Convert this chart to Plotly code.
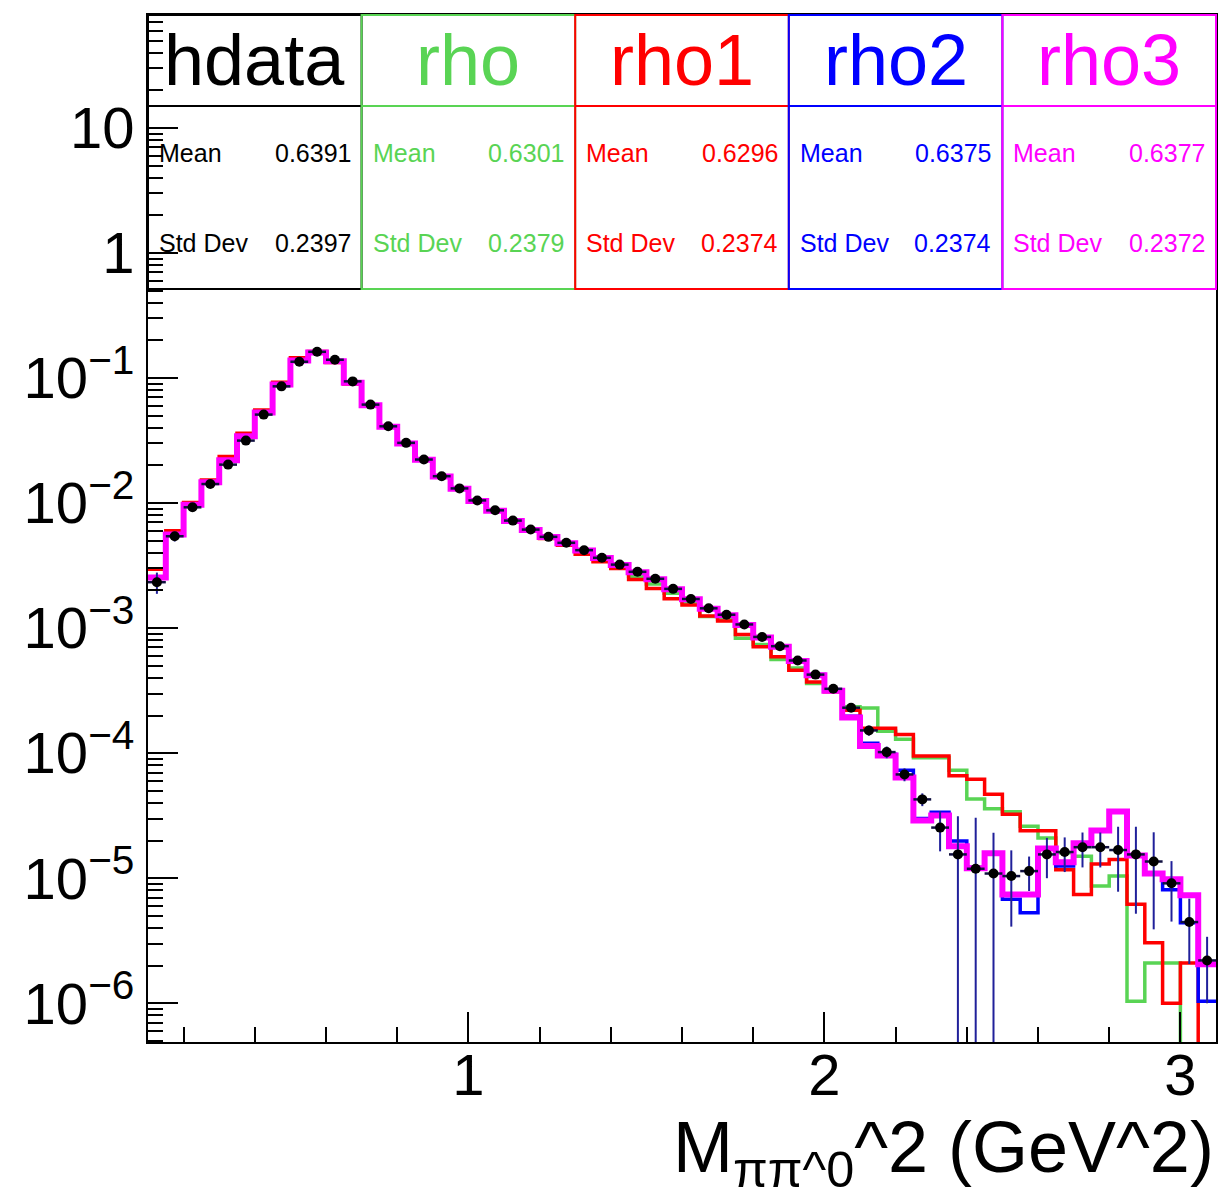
import math
import plotly.graph_objects as go

# ---------------- data ----------------
bin_low = 0.1
bin_width = 0.05

hdata = [2.33e-3, 5.43e-3, 9.25e-3, 1.42e-2, 2.03e-2, 3.16e-2, 5.10e-2, 8.58e-2, 0.135, 0.162,
         0.140, 0.094, 0.0613, 0.0411, 0.0303, 0.0223, 0.0164, 0.0131, 0.0105, 8.75e-3,
         7.24e-3, 6.14e-3, 5.37e-3, 4.81e-3, 4.20e-3, 3.65e-3, 3.22e-3, 2.82e-3, 2.48e-3, 2.06e-3,
         1.71e-3, 1.44e-3, 1.28e-3, 1.07e-3, 8.5e-4, 7.17e-4, 5.51e-4, 4.25e-4, 3.27e-4, 2.31e-4,
         1.52e-4, 1.02e-4, 6.76e-5, 4.27e-5, 2.54e-5, 1.55e-5, 1.19e-5, 1.09e-5, 1.04e-5, 1.14e-5,
         1.55e-5, 1.62e-5, 1.77e-5, 1.77e-5, 1.68e-5, 1.55e-5, 1.36e-5, 9.1e-6, 4.46e-6, 2.2e-6]

hdata_err = [4.5e-4, 5.0e-4, 2.8e-4, 4.0e-4, 5.0e-4, 7.0e-4, 1.0e-3, 1.5e-3, 2.2e-3, 2.5e-3,
             2.3e-3, 1.7e-3, 1.2e-3, 8.0e-4, 6.0e-4, 4.5e-4, 3.3e-4, 2.7e-4, 2.2e-4, 1.9e-4,
             1.6e-4, 1.4e-4, 1.25e-4, 1.2e-4, 1.1e-4, 1.0e-4, 9.0e-5, 8.5e-5, 7.5e-5, 6.5e-5,
             5.5e-5, 5.0e-5, 4.5e-5, 4.0e-5, 3.5e-5, 3.2e-5, 2.8e-5, 2.4e-5, 2.0e-5, 1.7e-5,
             1.4e-5, 1.1e-5, 8.0e-6, 5.0e-6, 9.0e-6, 1.58e-5, 1.85e-5, 1.22e-5, 6.3e-6, 3.5e-6,
             5.5e-6, 5.0e-6, 5.5e-6, 5.5e-6, 9.0e-6, 1.03e-5, 9.7e-6, 4.6e-6, 2.4e-6, 1.2e-6]

rho = [2.52e-3, 5.58e-3, 9.65e-3, 1.46e-2, 2.19e-2, 3.40e-2, 5.27e-2, 8.83e-2, 0.137, 0.160,
       0.136, 0.0915, 0.0604, 0.0407, 0.0299, 0.0221, 0.0162, 0.0129, 0.0103, 8.65e-3,
       7.15e-3, 6.05e-3, 5.3e-3, 4.72e-3, 4.1e-3, 3.55e-3, 3.12e-3, 2.6e-3, 2.25e-3, 1.9e-3,
       1.6e-3, 1.24e-3, 1.18e-3, 8.3e-4, 7.4e-4, 5.6e-4, 4.8e-4, 3.6e-4, 3.2e-4, 2.35e-4,
       2.3e-4, 1.5e-4, 1.29e-4, 9.2e-5, 9.2e-5, 7.3e-5, 4.3e-5, 3.6e-5, 3.4e-5, 2.6e-5,
       2.1e-5, 1.6e-5, 1.5e-5, 8.65e-6, 1.04e-5, 1.04e-6, 2.1e-6, 2.1e-6, 0.0, 0.0]

rho1 = [2.95e-3, 6.0e-3, 1.01e-2, 1.53e-2, 2.36e-2, 3.62e-2, 5.55e-2, 9.25e-2, 0.145, 0.163,
        0.133, 0.0895, 0.0600, 0.0405, 0.0300, 0.0221, 0.0162, 0.0129, 0.0103, 8.6e-3,
        7.1e-3, 6.0e-3, 5.2e-3, 4.6e-3, 3.9e-3, 3.4e-3, 3.0e-3, 2.45e-3, 2.07e-3, 1.72e-3,
        1.53e-3, 1.25e-3, 1.14e-3, 8.9e-4, 7.1e-4, 5.9e-4, 4.6e-4, 3.7e-4, 3.1e-4, 2.2e-4,
        1.58e-4, 1.58e-4, 1.41e-4, 9.5e-5, 9.5e-5, 6.6e-5, 6.2e-5, 4.7e-5, 3.24e-5, 2.4e-5,
        2.4e-5, 1.17e-5, 7.4e-6, 1.3e-5, 1.41e-5, 6.2e-6, 3.05e-6, 1.0e-6, 2.1e-6, 0.0]

rho2 = [2.53e-3, 5.6e-3, 9.7e-3, 1.47e-2, 2.2e-2, 3.41e-2, 5.28e-2, 8.85e-2, 0.138, 0.160,
        0.136, 0.0916, 0.0606, 0.0409, 0.0301, 0.0222, 0.0163, 0.0130, 0.0104, 8.72e-3,
        7.22e-3, 6.12e-3, 5.36e-3, 4.8e-3, 4.2e-3, 3.65e-3, 3.21e-3, 2.81e-3, 2.47e-3, 2.06e-3,
        1.71e-3, 1.44e-3, 1.28e-3, 1.07e-3, 8.5e-4, 7.15e-4, 5.5e-4, 4.25e-4, 3.2e-4, 1.97e-4,
        1.2e-4, 9.8e-5, 7.3e-5, 3.0e-5, 3.37e-5, 1.98e-5, 1.22e-5, 1.6e-5, 6.8e-6, 5.3e-6,
        1.75e-5, 1.25e-5, 1.9e-5, 2.4e-5, 3.4e-5, 1.5e-5, 1.08e-5, 8.1e-6, 4.4e-6, 1.04e-6]

rho3 = [2.54e-3, 5.6e-3, 9.7e-3, 1.47e-2, 2.2e-2, 3.42e-2, 5.29e-2, 8.86e-2, 0.138, 0.160,
        0.136, 0.0915, 0.0605, 0.0408, 0.0300, 0.0222, 0.0163, 0.0130, 0.0104, 8.7e-3,
        7.2e-3, 6.1e-3, 5.35e-3, 4.78e-3, 4.18e-3, 3.64e-3, 3.2e-3, 2.8e-3, 2.46e-3, 2.05e-3,
        1.70e-3, 1.43e-3, 1.27e-3, 1.06e-3, 8.4e-4, 7.1e-4, 5.45e-4, 4.2e-4, 3.15e-4, 1.93e-4,
        1.14e-4, 9.6e-5, 6.4e-5, 2.9e-5, 3.18e-5, 1.8e-5, 1.2e-5, 1.58e-5, 7.4e-6, 7.4e-6,
        1.73e-5, 1.34e-5, 1.9e-5, 2.41e-5, 3.42e-5, 1.52e-5, 1.09e-5, 9.8e-6, 7.3e-6, 2.05e-6]

series_names = ["hdata", "rho", "rho1", "rho2", "rho3"]
series_means = ["0.6391", "0.6301", "0.6296", "0.6375", "0.6377"]
series_stds = ["0.2397", "0.2379", "0.2374", "0.2374", "0.2372"]

y_tick_vals = [1e-6, 1e-5, 1e-4, 1e-3, 1e-2, 1e-1, 1, 10]
y_tick_text = ["10<sup>\u22126</sup>", "10<sup>\u22125</sup>", "10<sup>\u22124</sup>",
               "10<sup>\u22123</sup>", "10<sup>\u22122</sup>", "10<sup>\u22121</sup>", "1", "10"]
x_tick_vals = [1, 2, 3]
x_tick_text = ["1", "2", "3"]
x_title = "M<sub>\u03c0\u03c0^0</sub>^2 (GeV^2)"

# ---------------- styles ----------------
colors = {"hdata": "#000000", "rho": "#59d454", "rho1": "#ff0000", "rho2": "#0000ff", "rho3": "#ff00ff"}
FONT = "Liberation Sans, Arial, Helvetica, sans-serif"

n_bins = len(hdata)
edges = [bin_low + bin_width * i for i in range(n_bins + 1)]
centers = [bin_low + bin_width * (i + 0.5) for i in range(n_bins)]
FLOOR = 1e-12  # draw empty bins down past the axis bottom


def step_y(vals):
    v = [x if x > 0 else FLOOR for x in vals]
    return v + [v[-1]]


fig = go.Figure()

for name, vals, width in [("rho", rho, 3.5), ("rho1", rho1, 3.5), ("rho2", rho2, 3.5), ("rho3", rho3, 6)]:
    fig.add_trace(go.Scatter(x=edges, y=step_y(vals), mode="lines",
                             line=dict(color=colors[name], width=width, shape="hv"),
                             name=name, showlegend=False))

fig.add_trace(go.Scatter(
    x=centers, y=hdata, mode="markers", name="hdata", showlegend=False,
    marker=dict(color="black", size=10, symbol="circle"),
    error_y=dict(type="data", array=hdata_err, visible=True, color="#20209a", thickness=2, width=0),
    error_x=dict(type="constant", value=bin_width / 2, visible=True, color="#101040", thickness=2.5, width=0),
))

# ---------------- layout ----------------
L, R, T, B = 148, 3, 15, 158
W, H = 1221, 1200
plot_h = H - T - B

minor_y = [k * 10.0 ** n for n in range(-7, 2) for k in range(2, 10)]

fig.update_layout(
    width=W, height=H,
    margin=dict(l=L, r=R, t=T, b=B, pad=0),
    paper_bgcolor="white", plot_bgcolor="white",
    font=dict(family=FONT, color="black"),
    xaxis=dict(range=[0.1, 3.1], showgrid=False, zeroline=False,
               showline=True, linecolor="black", linewidth=2, mirror=True,
               ticks="inside", ticklen=30, tickwidth=1.5, tickcolor="black",
               tickmode="array", tickvals=x_tick_vals, ticktext=x_tick_text,
               tickfont=dict(size=58, family=FONT), ticklabelstandoff=-19,
               minor=dict(ticks="inside", ticklen=15, tickwidth=1.5, tickcolor="black",
                          tickmode="array", tickvals=[0.2, 0.4, 0.6, 0.8, 1.2, 1.4, 1.6, 1.8,
                                                      2.2, 2.4, 2.6, 2.8, 3.0])),
    yaxis=dict(type="log", range=[math.log10(4.9e-7), math.log10(80)], showgrid=False,
               zeroline=False, showline=True, linecolor="black", linewidth=2, mirror=True,
               ticks="inside", ticklen=30, tickwidth=1.5, tickcolor="black",
               tickmode="array", tickvals=y_tick_vals, ticktext=y_tick_text,
               tickfont=dict(size=58, family=FONT), ticklabelstandoff=0,
               minor=dict(ticks="inside", ticklen=15, tickwidth=1.5, tickcolor="black",
                          tickmode="array", tickvals=minor_y)),
)


def py2paper(py):
    return (H - B - py) / plot_h


box_top, box_sep, box_bot = py2paper(15), py2paper(106), py2paper(289)
row_title, row_mean, row_std = py2paper(60), py2paper(153), py2paper(243)
pad_x = 9 / (W - L - R)

shapes = []
annotations = []
for i, name in enumerate(series_names):
    x0, x1 = i * 0.2, (i + 1) * 0.2
    c = colors[name]
    shapes.append(dict(type="rect", xref="paper", yref="paper", x0=x0, x1=x1, y0=box_bot, y1=box_top,
                       line=dict(color=c, width=2), fillcolor="rgba(0,0,0,0)", layer="above"))
    shapes.append(dict(type="line", xref="paper", yref="paper", x0=x0, x1=x1, y0=box_sep, y1=box_sep,
                       line=dict(color=c, width=2), layer="above"))
    annotations.append(dict(text=name, xref="paper", yref="paper", x=(x0 + x1) / 2, y=row_title,
                            xanchor="center", yanchor="middle", showarrow=False,
                            font=dict(size=72, color=c, family=FONT)))
    for label, val, yy in [("Mean", series_means[i], row_mean), ("Std Dev", series_stds[i], row_std)]:
        annotations.append(dict(text=label, xref="paper", yref="paper", x=x0 + pad_x, y=yy,
                                xanchor="left", yanchor="middle", showarrow=False,
                                font=dict(size=25, color=c, family=FONT)))
        annotations.append(dict(text=val, xref="paper", yref="paper", x=x1 - pad_x, y=yy,
                                xanchor="right", yanchor="middle", showarrow=False,
                                font=dict(size=25, color=c, family=FONT)))

annotations.append(dict(text=x_title, xref="paper", yref="paper", x=1.0, y=py2paper(1152),
                        xanchor="right", yanchor="middle", showarrow=False,
                        font=dict(size=72, color="black", family=FONT)))

fig.update_layout(shapes=shapes, annotations=annotations)

fig.write_html("out.html")
